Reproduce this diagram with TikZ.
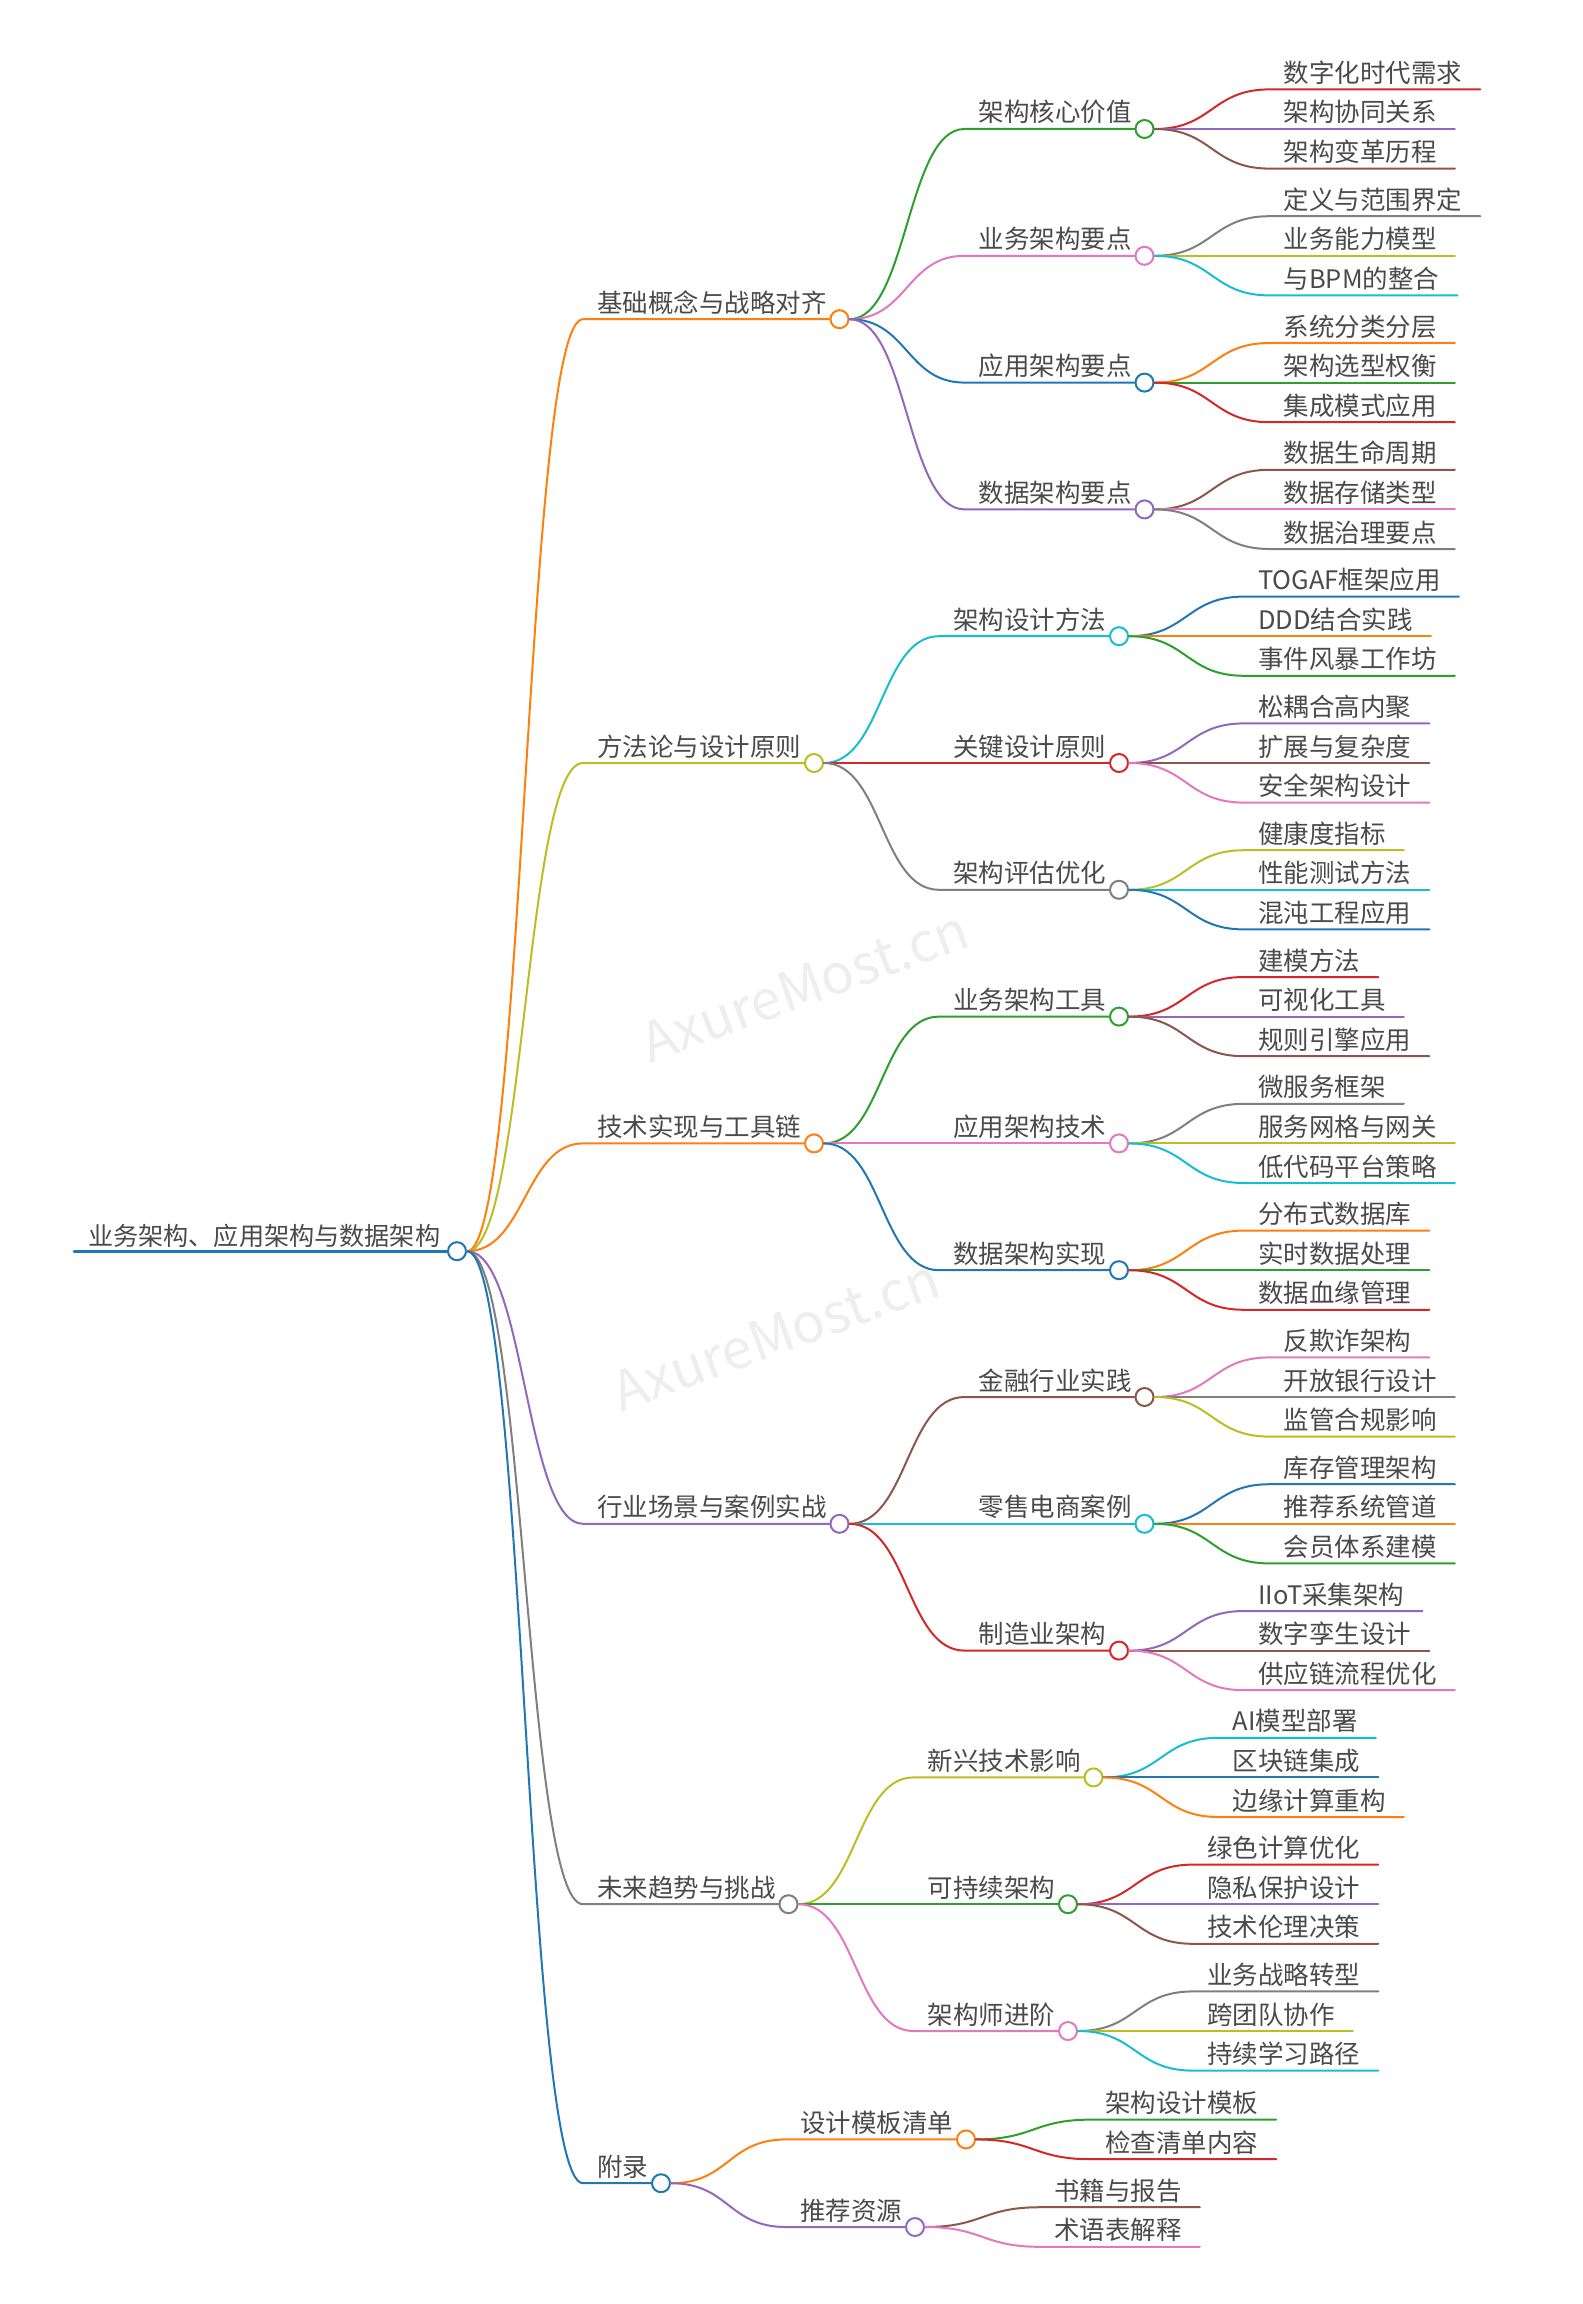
\documentclass[tikz,border=0pt]{standalone}
\usepackage{fontspec}
\setmainfont{Noto Sans CJK SC}
\usepackage{xcolor}
\usepackage{tikz}

\definecolor{cblue}{RGB}{31,119,180}
\definecolor{corange}{RGB}{255,127,14}
\definecolor{cgreen}{RGB}{44,160,44}
\definecolor{cred}{RGB}{214,39,40}
\definecolor{cpurple}{RGB}{148,103,189}
\definecolor{cbrown}{RGB}{140,86,75}
\definecolor{cpink}{RGB}{227,119,194}
\definecolor{cgray}{RGB}{127,127,127}
\definecolor{colive}{RGB}{188,189,34}
\definecolor{ccyan}{RGB}{23,190,207}
\definecolor{tgray}{RGB}{74,74,74}
\definecolor{wmgray}{RGB}{238,238,238}

\begin{document}
\begin{tikzpicture}[x=0.75pt,y=0.75pt,yscale=-1,xscale=1,
    lbl/.style={anchor=base west, inner sep=0pt, text=tgray, font=\fontsize{19.1}{22}\selectfont},
    knob/.style={circle, inner sep=0pt, minimum size=13.5pt, fill=white, line width=1.5pt},
    branch/.style={line width=1.5pt, line cap=round}]
\useasboundingbox (0,0) rectangle (1583,2304);

% Text Node (watermark)
\draw (805,986) node (wm1) [rotate=20, text=wmgray, font=\fontsize{41}{41}\selectfont] {AxureMost.cn};
% Text Node (watermark)
\draw (776,1335) node (wm2) [rotate=20, text=wmgray, font=\fontsize{41}{41}\selectfont] {AxureMost.cn};

% ---------------- root
% Text Node
\draw (88,1245) node (root) [lbl, font=\fontsize{18.85}{22}\selectfont] {业务架构、应用架构与数据架构};
%Shape: Circle
\draw (457,1251.2) node (rooto) [knob, draw=cblue] {};
\coordinate (roots) at (74,1251.2);
%Straight Lines
\draw [branch, cblue, line width=2pt] (roots) -- (rooto.west);

% ---------------- level 1
% Text Node
\draw (597,312.2) node (b1) [lbl] {基础概念与战略对齐};
\draw (839.5,319.2) node (b1o) [knob, draw=corange] {};
\coordinate (b1s) at (583,319.2);
%Curve Lines
\draw [branch, corange] (rooto.east) .. controls +(58,0) and +(-58,0) .. (b1s) -- (b1o.west);

% Text Node
\draw (597,756) node (b2) [lbl] {方法论与设计原则};
\draw (814,763) node (b2o) [knob, draw=colive] {};
\coordinate (b2s) at (583,763);
%Curve Lines
\draw [branch, colive] (rooto.east) .. controls +(58,0) and +(-58,0) .. (b2s) -- (b2o.west);

% Text Node
\draw (597,1136.4) node (b3) [lbl] {技术实现与工具链};
\draw (814,1143.4) node (b3o) [knob, draw=corange] {};
\coordinate (b3s) at (583,1143.4);
%Curve Lines
\draw [branch, corange] (rooto.east) .. controls +(58,0) and +(-58,0) .. (b3s) -- (b3o.west);

% Text Node
\draw (597,1516.8) node (b4) [lbl] {行业场景与案例实战};
\draw (839.5,1523.8) node (b4o) [knob, draw=cpurple] {};
\coordinate (b4s) at (583,1523.8);
%Curve Lines
\draw [branch, cpurple] (rooto.east) .. controls +(58,0) and +(-58,0) .. (b4s) -- (b4o.west);

% Text Node
\draw (597,1897.2) node (b5) [lbl] {未来趋势与挑战};
\draw (788.5,1904.2) node (b5o) [knob, draw=cgray] {};
\coordinate (b5s) at (583,1904.2);
%Curve Lines
\draw [branch, cgray] (rooto.east) .. controls +(58,0) and +(-58,0) .. (b5s) -- (b5o.west);

% Text Node
\draw (597,2176.2) node (b6) [lbl] {附录};
\draw (661,2183.2) node (b6o) [knob, draw=cblue] {};
\coordinate (b6s) at (583,2183.2);
%Curve Lines
\draw [branch, cblue] (rooto.east) .. controls +(58,0) and +(-58,0) .. (b6s) -- (b6o.west);

% ---------------- level 2
% Text Node
\draw (978.5,122) node (b1a) [lbl] {架构核心价值};
\draw (1144.5,129) node (b1ao) [knob, draw=cgreen] {};
\coordinate (b1as) at (964.5,129);
\draw [branch, cgreen] (b1o.east) .. controls +(58,0) and +(-58,0) .. (b1as) -- (b1ao.west);

\draw (978.5,248.8) node (b1b) [lbl] {业务架构要点};
\draw (1144.5,255.8) node (b1bo) [knob, draw=cpink] {};
\coordinate (b1bs) at (964.5,255.8);
\draw [branch, cpink] (b1o.east) .. controls +(58,0) and +(-58,0) .. (b1bs) -- (b1bo.west);

\draw (978.5,375.6) node (b1c) [lbl] {应用架构要点};
\draw (1144.5,382.6) node (b1co) [knob, draw=cblue] {};
\coordinate (b1cs) at (964.5,382.6);
\draw [branch, cblue] (b1o.east) .. controls +(58,0) and +(-58,0) .. (b1cs) -- (b1co.west);

\draw (978.5,502.4) node (b1d) [lbl] {数据架构要点};
\draw (1144.5,509.4) node (b1do) [knob, draw=cpurple] {};
\coordinate (b1ds) at (964.5,509.4);
\draw [branch, cpurple] (b1o.east) .. controls +(58,0) and +(-58,0) .. (b1ds) -- (b1do.west);

\draw (953,629.2) node (b2a) [lbl] {架构设计方法};
\draw (1119,636.2) node (b2ao) [knob, draw=ccyan] {};
\coordinate (b2as) at (939,636.2);
\draw [branch, ccyan] (b2o.east) .. controls +(58,0) and +(-58,0) .. (b2as) -- (b2ao.west);

\draw (953,756) node (b2b) [lbl] {关键设计原则};
\draw (1119,763) node (b2bo) [knob, draw=cred] {};
\coordinate (b2bs) at (939,763);
\draw [branch, cred] (b2o.east) .. controls +(58,0) and +(-58,0) .. (b2bs) -- (b2bo.west);

\draw (953,882.8) node (b2c) [lbl] {架构评估优化};
\draw (1119,889.8) node (b2co) [knob, draw=cgray] {};
\coordinate (b2cs) at (939,889.8);
\draw [branch, cgray] (b2o.east) .. controls +(58,0) and +(-58,0) .. (b2cs) -- (b2co.west);

\draw (953,1009.6) node (b3a) [lbl] {业务架构工具};
\draw (1119,1016.6) node (b3ao) [knob, draw=cgreen] {};
\coordinate (b3as) at (939,1016.6);
\draw [branch, cgreen] (b3o.east) .. controls +(58,0) and +(-58,0) .. (b3as) -- (b3ao.west);

\draw (953,1136.4) node (b3b) [lbl] {应用架构技术};
\draw (1119,1143.4) node (b3bo) [knob, draw=cpink] {};
\coordinate (b3bs) at (939,1143.4);
\draw [branch, cpink] (b3o.east) .. controls +(58,0) and +(-58,0) .. (b3bs) -- (b3bo.west);

\draw (953,1263.2) node (b3c) [lbl] {数据架构实现};
\draw (1119,1270.2) node (b3co) [knob, draw=cblue] {};
\coordinate (b3cs) at (939,1270.2);
\draw [branch, cblue] (b3o.east) .. controls +(58,0) and +(-58,0) .. (b3cs) -- (b3co.west);

\draw (978.5,1390) node (b4a) [lbl] {金融行业实践};
\draw (1144.5,1397) node (b4ao) [knob, draw=cbrown] {};
\coordinate (b4as) at (964.5,1397);
\draw [branch, cbrown] (b4o.east) .. controls +(58,0) and +(-58,0) .. (b4as) -- (b4ao.west);

\draw (978.5,1516.8) node (b4b) [lbl] {零售电商案例};
\draw (1144.5,1523.8) node (b4bo) [knob, draw=ccyan] {};
\coordinate (b4bs) at (964.5,1523.8);
\draw [branch, ccyan] (b4o.east) .. controls +(58,0) and +(-58,0) .. (b4bs) -- (b4bo.west);

\draw (978.5,1643.6) node (b4c) [lbl] {制造业架构};
\draw (1119,1650.6) node (b4co) [knob, draw=cred] {};
\coordinate (b4cs) at (964.5,1650.6);
\draw [branch, cred] (b4o.east) .. controls +(58,0) and +(-58,0) .. (b4cs) -- (b4co.west);

\draw (927.5,1770.4) node (b5a) [lbl] {新兴技术影响};
\draw (1093.5,1777.4) node (b5ao) [knob, draw=colive] {};
\coordinate (b5as) at (913.5,1777.4);
\draw [branch, colive] (b5o.east) .. controls +(58,0) and +(-58,0) .. (b5as) -- (b5ao.west);

\draw (927.5,1897.2) node (b5b) [lbl] {可持续架构};
\draw (1068,1904.2) node (b5bo) [knob, draw=cgreen] {};
\coordinate (b5bs) at (913.5,1904.2);
\draw [branch, cgreen] (b5o.east) .. controls +(58,0) and +(-58,0) .. (b5bs) -- (b5bo.west);

\draw (927.5,2024) node (b5c) [lbl] {架构师进阶};
\draw (1068,2031) node (b5co) [knob, draw=cpink] {};
\coordinate (b5cs) at (913.5,2031);
\draw [branch, cpink] (b5o.east) .. controls +(58,0) and +(-58,0) .. (b5cs) -- (b5co.west);

\draw (800,2132.4) node (b6a) [lbl] {设计模板清单};
\draw (966,2139.4) node (b6ao) [knob, draw=corange] {};
\coordinate (b6as) at (786,2139.4);
\draw [branch, corange] (b6o.east) .. controls +(58,0) and +(-58,0) .. (b6as) -- (b6ao.west);

\draw (800,2220) node (b6b) [lbl] {推荐资源};
\draw (915,2227) node (b6bo) [knob, draw=cpurple] {};
\coordinate (b6bs) at (786,2227);
\draw [branch, cpurple] (b6o.east) .. controls +(58,0) and +(-58,0) .. (b6bs) -- (b6bo.west);

% ---------------- leaves
% 架构核心价值
\draw (1283.5,82.4) node (b1a1) [lbl] {数字化时代需求};
\coordinate (b1a1s) at (1269.5,89.4);
\draw [branch, cred] (b1ao.east) .. controls +(58,0) and +(-58,0) .. (b1a1s) -- (b1a1s -| b1a1.east) -- ++(18,0);
\draw (1283.5,122) node (b1a2) [lbl] {架构协同关系};
\coordinate (b1a2s) at (1269.5,129);
\draw [branch, cpurple] (b1ao.east) -- (b1a2s) -- (b1a2s -| b1a2.east) -- ++(18,0);
\draw (1283.5,161.6) node (b1a3) [lbl] {架构变革历程};
\coordinate (b1a3s) at (1269.5,168.6);
\draw [branch, cbrown] (b1ao.east) .. controls +(58,0) and +(-58,0) .. (b1a3s) -- (b1a3s -| b1a3.east) -- ++(18,0);

% 业务架构要点
\draw (1283.5,209.2) node (b1b1) [lbl] {定义与范围界定};
\coordinate (b1b1s) at (1269.5,216.2);
\draw [branch, cgray] (b1bo.east) .. controls +(58,0) and +(-58,0) .. (b1b1s) -- (b1b1s -| b1b1.east) -- ++(18,0);
\draw (1283.5,248.8) node (b1b2) [lbl] {业务能力模型};
\coordinate (b1b2s) at (1269.5,255.8);
\draw [branch, colive] (b1bo.east) -- (b1b2s) -- (b1b2s -| b1b2.east) -- ++(18,0);
\draw (1283.5,288.4) node (b1b3) [lbl] {与BPM的整合};
\coordinate (b1b3s) at (1269.5,295.4);
\draw [branch, ccyan] (b1bo.east) .. controls +(58,0) and +(-58,0) .. (b1b3s) -- (b1b3s -| b1b3.east) -- ++(18,0);

% 应用架构要点
\draw (1283.5,336) node (b1c1) [lbl] {系统分类分层};
\coordinate (b1c1s) at (1269.5,343);
\draw [branch, corange] (b1co.east) .. controls +(58,0) and +(-58,0) .. (b1c1s) -- (b1c1s -| b1c1.east) -- ++(18,0);
\draw (1283.5,375.6) node (b1c2) [lbl] {架构选型权衡};
\coordinate (b1c2s) at (1269.5,382.6);
\draw [branch, cgreen] (b1co.east) -- (b1c2s) -- (b1c2s -| b1c2.east) -- ++(18,0);
\draw (1283.5,415.2) node (b1c3) [lbl] {集成模式应用};
\coordinate (b1c3s) at (1269.5,422.2);
\draw [branch, cred] (b1co.east) .. controls +(58,0) and +(-58,0) .. (b1c3s) -- (b1c3s -| b1c3.east) -- ++(18,0);

% 数据架构要点
\draw (1283.5,462.8) node (b1d1) [lbl] {数据生命周期};
\coordinate (b1d1s) at (1269.5,469.8);
\draw [branch, cbrown] (b1do.east) .. controls +(58,0) and +(-58,0) .. (b1d1s) -- (b1d1s -| b1d1.east) -- ++(18,0);
\draw (1283.5,502.4) node (b1d2) [lbl] {数据存储类型};
\coordinate (b1d2s) at (1269.5,509.4);
\draw [branch, cpink] (b1do.east) -- (b1d2s) -- (b1d2s -| b1d2.east) -- ++(18,0);
\draw (1283.5,542) node (b1d3) [lbl] {数据治理要点};
\coordinate (b1d3s) at (1269.5,549);
\draw [branch, cgray] (b1do.east) .. controls +(58,0) and +(-58,0) .. (b1d3s) -- (b1d3s -| b1d3.east) -- ++(18,0);

% 架构设计方法
\draw (1258,589.6) node (b2a1) [lbl] {TOGAF框架应用};
\coordinate (b2a1s) at (1244,596.6);
\draw [branch, cblue] (b2ao.east) .. controls +(58,0) and +(-58,0) .. (b2a1s) -- (b2a1s -| b2a1.east) -- ++(18,0);
\draw (1258,629.2) node (b2a2) [lbl] {DDD结合实践};
\coordinate (b2a2s) at (1244,636.2);
\draw [branch, corange] (b2ao.east) -- (b2a2s) -- (b2a2s -| b2a2.east) -- ++(18,0);
\draw (1258,668.8) node (b2a3) [lbl] {事件风暴工作坊};
\coordinate (b2a3s) at (1244,675.8);
\draw [branch, cgreen] (b2ao.east) .. controls +(58,0) and +(-58,0) .. (b2a3s) -- (b2a3s -| b2a3.east) -- ++(18,0);

% 关键设计原则
\draw (1258,716.4) node (b2b1) [lbl] {松耦合高内聚};
\coordinate (b2b1s) at (1244,723.4);
\draw [branch, cpurple] (b2bo.east) .. controls +(58,0) and +(-58,0) .. (b2b1s) -- (b2b1s -| b2b1.east) -- ++(18,0);
\draw (1258,756) node (b2b2) [lbl] {扩展与复杂度};
\coordinate (b2b2s) at (1244,763);
\draw [branch, cbrown] (b2bo.east) -- (b2b2s) -- (b2b2s -| b2b2.east) -- ++(18,0);
\draw (1258,795.6) node (b2b3) [lbl] {安全架构设计};
\coordinate (b2b3s) at (1244,802.6);
\draw [branch, cpink] (b2bo.east) .. controls +(58,0) and +(-58,0) .. (b2b3s) -- (b2b3s -| b2b3.east) -- ++(18,0);

% 架构评估优化
\draw (1258,843.2) node (b2c1) [lbl] {健康度指标};
\coordinate (b2c1s) at (1244,850.2);
\draw [branch, colive] (b2co.east) .. controls +(58,0) and +(-58,0) .. (b2c1s) -- (b2c1s -| b2c1.east) -- ++(18,0);
\draw (1258,882.8) node (b2c2) [lbl] {性能测试方法};
\coordinate (b2c2s) at (1244,889.8);
\draw [branch, ccyan] (b2co.east) -- (b2c2s) -- (b2c2s -| b2c2.east) -- ++(18,0);
\draw (1258,922.4) node (b2c3) [lbl] {混沌工程应用};
\coordinate (b2c3s) at (1244,929.4);
\draw [branch, cblue] (b2co.east) .. controls +(58,0) and +(-58,0) .. (b2c3s) -- (b2c3s -| b2c3.east) -- ++(18,0);

% 业务架构工具
\draw (1258,970) node (b3a1) [lbl] {建模方法};
\coordinate (b3a1s) at (1244,977);
\draw [branch, cred] (b3ao.east) .. controls +(58,0) and +(-58,0) .. (b3a1s) -- (b3a1s -| b3a1.east) -- ++(18,0);
\draw (1258,1009.6) node (b3a2) [lbl] {可视化工具};
\coordinate (b3a2s) at (1244,1016.6);
\draw [branch, cpurple] (b3ao.east) -- (b3a2s) -- (b3a2s -| b3a2.east) -- ++(18,0);
\draw (1258,1049.2) node (b3a3) [lbl] {规则引擎应用};
\coordinate (b3a3s) at (1244,1056.2);
\draw [branch, cbrown] (b3ao.east) .. controls +(58,0) and +(-58,0) .. (b3a3s) -- (b3a3s -| b3a3.east) -- ++(18,0);

% 应用架构技术
\draw (1258,1096.8) node (b3b1) [lbl] {微服务框架};
\coordinate (b3b1s) at (1244,1103.8);
\draw [branch, cgray] (b3bo.east) .. controls +(58,0) and +(-58,0) .. (b3b1s) -- (b3b1s -| b3b1.east) -- ++(18,0);
\draw (1258,1136.4) node (b3b2) [lbl] {服务网格与网关};
\coordinate (b3b2s) at (1244,1143.4);
\draw [branch, colive] (b3bo.east) -- (b3b2s) -- (b3b2s -| b3b2.east) -- ++(18,0);
\draw (1258,1176) node (b3b3) [lbl] {低代码平台策略};
\coordinate (b3b3s) at (1244,1183);
\draw [branch, ccyan] (b3bo.east) .. controls +(58,0) and +(-58,0) .. (b3b3s) -- (b3b3s -| b3b3.east) -- ++(18,0);

% 数据架构实现
\draw (1258,1223.6) node (b3c1) [lbl] {分布式数据库};
\coordinate (b3c1s) at (1244,1230.6);
\draw [branch, corange] (b3co.east) .. controls +(58,0) and +(-58,0) .. (b3c1s) -- (b3c1s -| b3c1.east) -- ++(18,0);
\draw (1258,1263.2) node (b3c2) [lbl] {实时数据处理};
\coordinate (b3c2s) at (1244,1270.2);
\draw [branch, cgreen] (b3co.east) -- (b3c2s) -- (b3c2s -| b3c2.east) -- ++(18,0);
\draw (1258,1302.8) node (b3c3) [lbl] {数据血缘管理};
\coordinate (b3c3s) at (1244,1309.8);
\draw [branch, cred] (b3co.east) .. controls +(58,0) and +(-58,0) .. (b3c3s) -- (b3c3s -| b3c3.east) -- ++(18,0);

% 金融行业实践
\draw (1283.5,1350.4) node (b4a1) [lbl] {反欺诈架构};
\coordinate (b4a1s) at (1269.5,1357.4);
\draw [branch, cpink] (b4ao.east) .. controls +(58,0) and +(-58,0) .. (b4a1s) -- (b4a1s -| b4a1.east) -- ++(18,0);
\draw (1283.5,1390) node (b4a2) [lbl] {开放银行设计};
\coordinate (b4a2s) at (1269.5,1397);
\draw [branch, cgray] (b4ao.east) -- (b4a2s) -- (b4a2s -| b4a2.east) -- ++(18,0);
\draw (1283.5,1429.6) node (b4a3) [lbl] {监管合规影响};
\coordinate (b4a3s) at (1269.5,1436.6);
\draw [branch, colive] (b4ao.east) .. controls +(58,0) and +(-58,0) .. (b4a3s) -- (b4a3s -| b4a3.east) -- ++(18,0);

% 零售电商案例
\draw (1283.5,1477.2) node (b4b1) [lbl] {库存管理架构};
\coordinate (b4b1s) at (1269.5,1484.2);
\draw [branch, cblue] (b4bo.east) .. controls +(58,0) and +(-58,0) .. (b4b1s) -- (b4b1s -| b4b1.east) -- ++(18,0);
\draw (1283.5,1516.8) node (b4b2) [lbl] {推荐系统管道};
\coordinate (b4b2s) at (1269.5,1523.8);
\draw [branch, corange] (b4bo.east) -- (b4b2s) -- (b4b2s -| b4b2.east) -- ++(18,0);
\draw (1283.5,1556.4) node (b4b3) [lbl] {会员体系建模};
\coordinate (b4b3s) at (1269.5,1563.4);
\draw [branch, cgreen] (b4bo.east) .. controls +(58,0) and +(-58,0) .. (b4b3s) -- (b4b3s -| b4b3.east) -- ++(18,0);

% 制造业架构
\draw (1258,1604) node (b4c1) [lbl] {IIoT采集架构};
\coordinate (b4c1s) at (1244,1611);
\draw [branch, cpurple] (b4co.east) .. controls +(58,0) and +(-58,0) .. (b4c1s) -- (b4c1s -| b4c1.east) -- ++(18,0);
\draw (1258,1643.6) node (b4c2) [lbl] {数字孪生设计};
\coordinate (b4c2s) at (1244,1650.6);
\draw [branch, cbrown] (b4co.east) -- (b4c2s) -- (b4c2s -| b4c2.east) -- ++(18,0);
\draw (1258,1683.2) node (b4c3) [lbl] {供应链流程优化};
\coordinate (b4c3s) at (1244,1690.2);
\draw [branch, cpink] (b4co.east) .. controls +(58,0) and +(-58,0) .. (b4c3s) -- (b4c3s -| b4c3.east) -- ++(18,0);

% 新兴技术影响
\draw (1232.5,1730.8) node (b5a1) [lbl] {AI模型部署};
\coordinate (b5a1s) at (1218.5,1737.8);
\draw [branch, ccyan] (b5ao.east) .. controls +(58,0) and +(-58,0) .. (b5a1s) -- (b5a1s -| b5a1.east) -- ++(18,0);
\draw (1232.5,1770.4) node (b5a2) [lbl] {区块链集成};
\coordinate (b5a2s) at (1218.5,1777.4);
\draw [branch, cblue] (b5ao.east) -- (b5a2s) -- (b5a2s -| b5a2.east) -- ++(18,0);
\draw (1232.5,1810) node (b5a3) [lbl] {边缘计算重构};
\coordinate (b5a3s) at (1218.5,1817);
\draw [branch, corange] (b5ao.east) .. controls +(58,0) and +(-58,0) .. (b5a3s) -- (b5a3s -| b5a3.east) -- ++(18,0);

% 可持续架构
\draw (1207,1857.6) node (b5b1) [lbl] {绿色计算优化};
\coordinate (b5b1s) at (1193,1864.6);
\draw [branch, cred] (b5bo.east) .. controls +(58,0) and +(-58,0) .. (b5b1s) -- (b5b1s -| b5b1.east) -- ++(18,0);
\draw (1207,1897.2) node (b5b2) [lbl] {隐私保护设计};
\coordinate (b5b2s) at (1193,1904.2);
\draw [branch, cpurple] (b5bo.east) -- (b5b2s) -- (b5b2s -| b5b2.east) -- ++(18,0);
\draw (1207,1936.8) node (b5b3) [lbl] {技术伦理决策};
\coordinate (b5b3s) at (1193,1943.8);
\draw [branch, cbrown] (b5bo.east) .. controls +(58,0) and +(-58,0) .. (b5b3s) -- (b5b3s -| b5b3.east) -- ++(18,0);

% 架构师进阶
\draw (1207,1984.4) node (b5c1) [lbl] {业务战略转型};
\coordinate (b5c1s) at (1193,1991.4);
\draw [branch, cgray] (b5co.east) .. controls +(58,0) and +(-58,0) .. (b5c1s) -- (b5c1s -| b5c1.east) -- ++(18,0);
\draw (1207,2024) node (b5c2) [lbl] {跨团队协作};
\coordinate (b5c2s) at (1193,2031);
\draw [branch, colive] (b5co.east) -- (b5c2s) -- (b5c2s -| b5c2.east) -- ++(18,0);
\draw (1207,2063.6) node (b5c3) [lbl] {持续学习路径};
\coordinate (b5c3s) at (1193,2070.6);
\draw [branch, ccyan] (b5co.east) .. controls +(58,0) and +(-58,0) .. (b5c3s) -- (b5c3s -| b5c3.east) -- ++(18,0);

% 设计模板清单
\draw (1105,2112.6) node (b6a1) [lbl] {架构设计模板};
\coordinate (b6a1s) at (1091,2119.6);
\draw [branch, cgreen] (b6ao.east) .. controls +(58,0) and +(-58,0) .. (b6a1s) -- (b6a1s -| b6a1.east) -- ++(18,0);
\draw (1105,2152.2) node (b6a2) [lbl] {检查清单内容};
\coordinate (b6a2s) at (1091,2159.2);
\draw [branch, cred] (b6ao.east) .. controls +(58,0) and +(-58,0) .. (b6a2s) -- (b6a2s -| b6a2.east) -- ++(18,0);

% 推荐资源
\draw (1054,2200.2) node (b6b1) [lbl] {书籍与报告};
\coordinate (b6b1s) at (1040,2207.2);
\draw [branch, cbrown] (b6bo.east) .. controls +(58,0) and +(-58,0) .. (b6b1s) -- (b6b1s -| b6b1.east) -- ++(18,0);
\draw (1054,2239.8) node (b6b2) [lbl] {术语表解释};
\coordinate (b6b2s) at (1040,2246.8);
\draw [branch, cpink] (b6bo.east) .. controls +(58,0) and +(-58,0) .. (b6b2s) -- (b6b2s -| b6b2.east) -- ++(18,0);
\end{tikzpicture}
\end{document}
